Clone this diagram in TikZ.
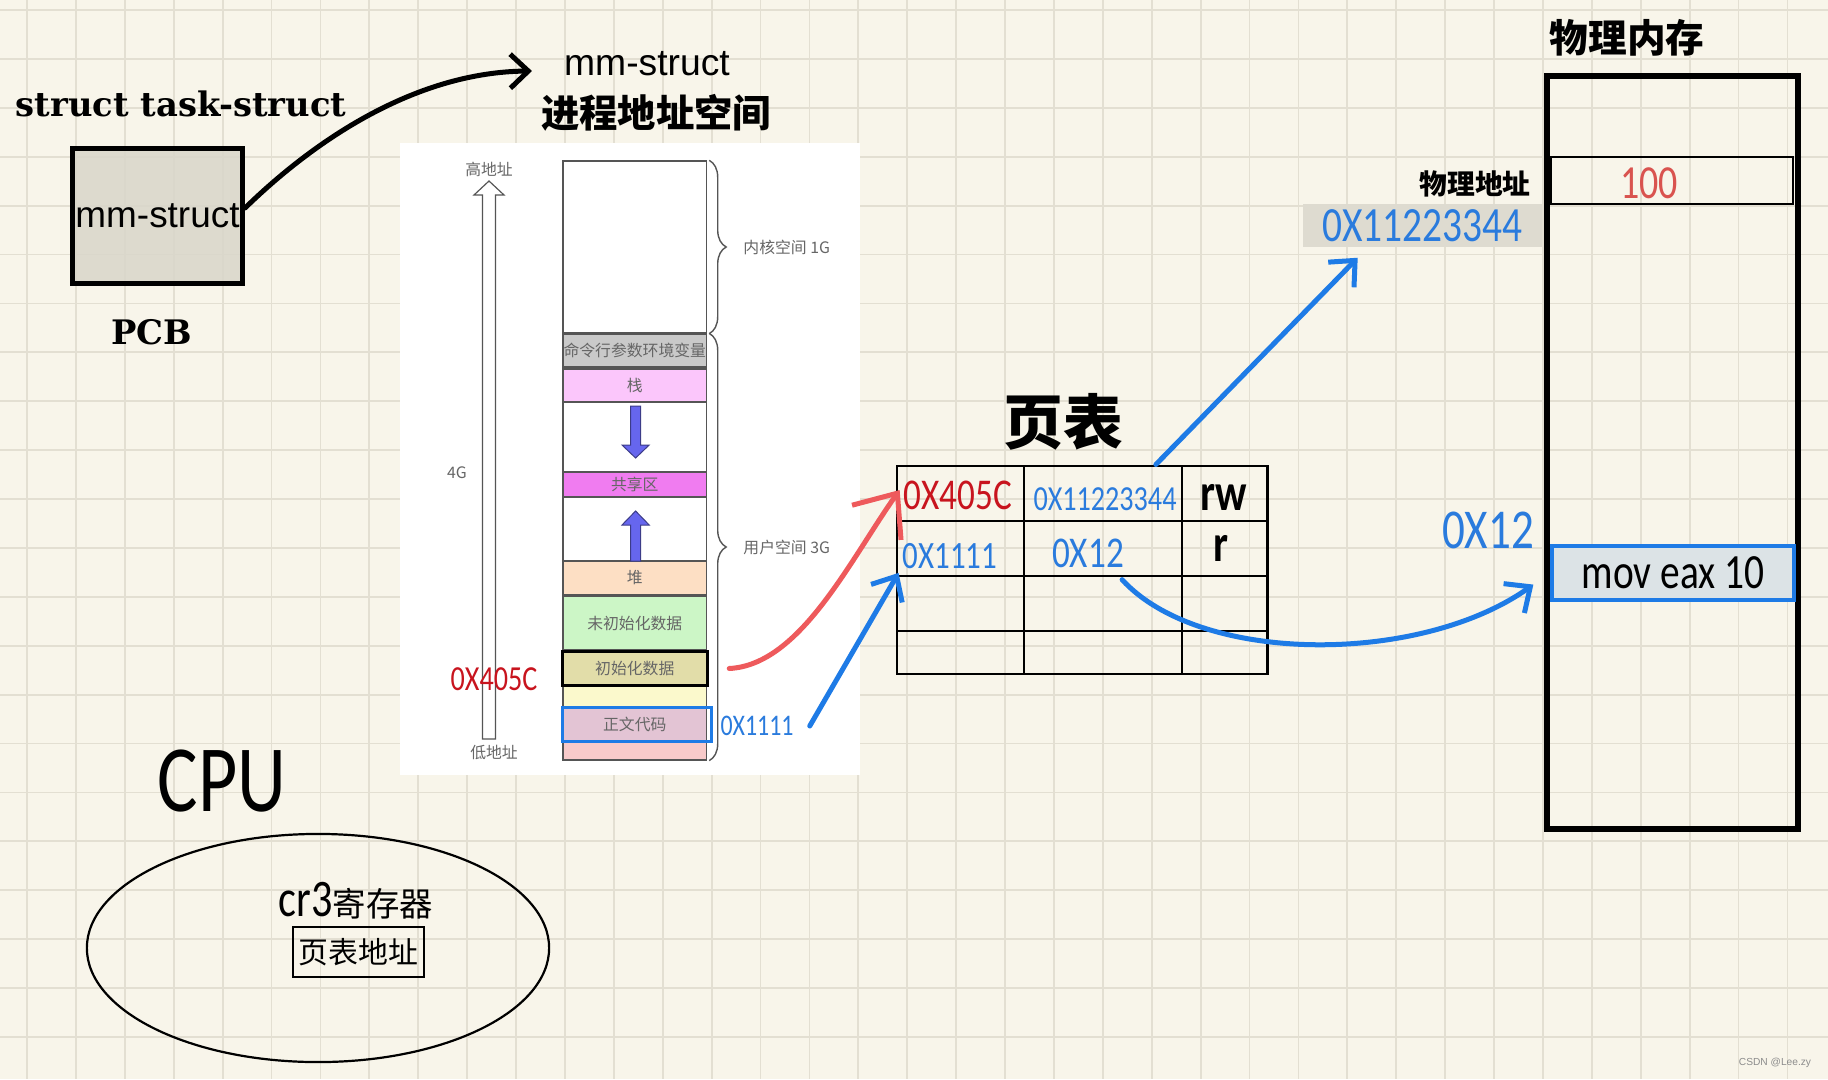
\documentclass[tikz,border=0pt]{standalone}
\usepackage{fontspec}
\setmainfont{Liberation Sans}
\newfontfamily\cjk{Noto Sans CJK SC}
\newfontfamily\slab{DejaVu Serif}
\newfontfamily\hand[FakeStretch=0.8]{Carlito}
\usetikzlibrary{arrows.meta,shapes.geometric,decorations.pathreplacing}
\newcommand\fsz[1]{\fontsize{#1}{#1}\selectfont}
\definecolor{paper}{HTML}{F8F5EA}
\definecolor{gridc}{HTML}{E3DFD2}
\definecolor{pcbgray}{HTML}{D9D6CA}
\definecolor{bargray}{HTML}{DEDBD0}
\definecolor{movfill}{HTML}{DCE3E6}
\definecolor{penblue}{HTML}{1E7BE6}
\definecolor{inkblue}{HTML}{2A7BDD}
\definecolor{inkred}{HTML}{C8141E}
\definecolor{penred}{HTML}{EE5A5C}
\definecolor{softred}{HTML}{D9534F}
\definecolor{segline}{HTML}{555555}
\definecolor{segcmd}{HTML}{C9C9C9}
\definecolor{segstack}{HTML}{FBC6FB}
\definecolor{segshare}{HTML}{F07CF0}
\definecolor{segheap}{HTML}{FDDFC4}
\definecolor{segbss}{HTML}{CCF6C6}
\definecolor{segdata}{HTML}{E2DDA9}
\definecolor{segpad}{HTML}{FBF9CC}
\definecolor{segcode}{HTML}{E3C4D4}
\definecolor{seglow}{HTML}{F8CACA}
\definecolor{growc}{HTML}{6666EE}

\begin{document}
\begin{tikzpicture}[
    x=0.01cm, y=-0.01cm,
    sheet/.style={draw=gridc, line width=0.018cm},
    sans/.style={inner sep=1pt, font=\fsz{#1}},
    slabb/.style={inner sep=1pt, font=\slab\bfseries\fsz{#1}},
    cjkb/.style={inner sep=1pt, font=\cjk\bfseries\fsz{#1}},
    hw/.style={inner sep=1pt, font=\hand\fsz{#1}},
    hwb/.style={inner sep=1pt, font=\hand\bfseries\fsz{#1}},
    seg/.style={draw=segline, line width=0.012cm, minimum width=1.435cm,
                inner sep=0pt, font=\cjk\fsz{4.5}, text=black!60},
    plab/.style={inner sep=1pt, font=\cjk\fsz{4.5}, text=black!60},
    brc/.style={draw=segline, line width=0.014cm, decorate,
                decoration={brace, amplitude=0.17cm}},
    growarr/.style={draw=segline!70!blue, line width=0.01cm, fill=growc},
    tab/.style={draw=black, line width=0.028cm},
    ink/.style={line width=0.05cm, line cap=round},
    bluetip/.style={-{Straight Barb[length=0.2cm, width=0.36cm]}},
]
% ---- background: squared paper ----
\useasboundingbox (0,0) rectangle (1828,1079);
\fill[paper] (0,0) rectangle (1828,1079);
\foreach \k in {0,...,36} \draw[sheet] ({27+48.9*\k},0) -- ({27+48.9*\k},1079);
\foreach \k in {0,...,21} \draw[sheet] (0,{10+48.9*\k}) -- (1828,{10+48.9*\k});

% ---- PCB ----
\node[slabb=9.6] (task) at (181,104) {struct task-struct};
\node[draw, line width=0.05cm, fill=pcbgray, fill opacity=0.85, text opacity=1,
      minimum width=1.7cm, minimum height=1.35cm, inner sep=0pt,
      font=\fsz{10.5}] (pcb) at (157.5,216) {mm-struct};
\node[slabb=9.6] (pcbname) at (152,332) {PCB};

% ---- mm-struct: process address space ----
\node[sans=10.6] (mm) at (647,64) {mm-struct};
\node[cjkb=10.9] (vas) at (656,113) {进程地址空间};
\draw[ink, -{Straight Barb[length=0.18cm, width=0.34cm]}] ([yshift=0.08cm]pcb.east)
    .. controls (320,135) and (420,72) .. ([xshift=-0.28cm, yshift=-0.07cm]mm.west);

\fill[white] (400,143) rectangle (860,775);
% segments, top to bottom
\foreach \ya/\yb/\col/\nm/\txt in {161/333/white/kern/{}, 334/367/segcmd/args/命令行参数环境变量,
    369/402/segstack/stack/栈, 402/472/white/gapA/{}, 472/497/segshare/share/共享区,
    497/561/white/gapB/{}, 561/595/segheap/heap/堆, 596/650/segbss/bss/未初始化数据,
    652/685/segdata/data/初始化数据, 685/708/segpad/pad/{}, 708/741/segcode/code/正文代码,
    741/760/seglow/low/{}} {
    \pgfmathsetmacro\hh{(\yb-\ya)/100}
    \pgfmathsetmacro\yc{(\ya+\yb)/2}
    \node[seg, fill=\col, minimum height=\hh cm] (\nm) at (634.8,\yc) {\txt};
}
\draw[line width=0.03cm] (data.north west) rectangle (data.south east);
\draw[penblue, line width=0.03cm] (code.north west) rectangle ([xshift=0.04cm]code.south east);
% stack grows down, heap grows up
\draw[growarr] (630.6,406) -- (630.6,445) -- (622,445) -- (635.6,458) -- (649.2,445)
    -- (640.6,445) -- (640.6,406) -- cycle;
\draw[growarr] (630.6,561) -- (630.6,525) -- (622,525) -- (635.6,511) -- (649.2,525)
    -- (640.6,525) -- (640.6,561) -- cycle;
% braces
\draw[brc] ([xshift=0.02cm]kern.north east) -- ([xshift=0.02cm]kern.south east)
    node[midway, right=0.3cm, plab] (ksp) {内核空间 1G};
\draw[brc] ([xshift=0.02cm]args.north east) -- ([xshift=0.02cm]low.south east)
    node[midway, right=0.3cm, plab] (usp) {用户空间 3G};
% address axis
\node[plab] (hi) at (489,169) {高地址};
\node[plab] (lo) at (494,753) {低地址};
\node[plab] (fourg) at (457,473) {4G};
\draw[draw=segline, line width=0.012cm, fill=white] (482.5,739) -- (482.5,195) -- (474,195)
    -- (489,181) -- (504,195) -- (495.5,195) -- (495.5,739) -- cycle;
\node[hw=10, text=inkred] (va405c) at (494,679) {0X405C};
\node[hw=8.5, text=inkblue] (va1111) at (757,726) {0X1111};

% ---- page table ----
\node[cjkb=17] (ptname) at (1063,422) {页表};
\node[tab, minimum width=3.7cm, minimum height=2.08cm, inner sep=0pt] (tbl) at (1082,570) {};
\foreach \gx in {1024,1182} \draw[tab] (\gx,466) -- (\gx,674);
\foreach \gy in {521,576,631} \draw[tab] (897,\gy) -- (1267,\gy);
\node[hw=12.5, text=inkred] (va1) at (958,495) {0X405C};
\node[hw=10, text=inkblue] (pa1) at (1105,499) {0X11223344};
\node[hwb=15] (rw1) at (1224,497) {rw};
\node[hw=11, text=inkblue] (va2) at (950,556) {0X1111};
\node[hw=12.5, text=inkblue] (pa2) at (1088,553) {0X12};
\node[hwb=15] (rw2) at (1221,548) {r};

% ---- physical memory ----
\node[cjkb=11] (memname) at (1627,38) {物理内存};
\node[draw, line width=0.06cm, minimum width=2.51cm, minimum height=7.53cm,
      inner sep=0pt] (mem) at (1672.5,452.5) {};
\node[draw, line width=0.015cm, minimum width=2.42cm, minimum height=0.47cm,
      inner sep=0pt] (slot) at (1672,180.5) {};
\node[hw=13.5, text=softred] (v100) at (1649,183) {100};
\node[cjkb=7.9] (paname) at (1475,184) {物理地址};
\node[fill=bargray, minimum width=2.39cm, minimum height=0.43cm, inner sep=0pt,
      hw=14, text=inkblue] (pa) at (1422.5,225.5) {0X11223344};
\node[hw=16, text=inkblue] (mlab) at (1488,530) {0X12};
\node[draw=penblue, line width=0.045cm, fill=movfill, minimum width=2.42cm,
      minimum height=0.54cm, inner sep=0pt, hw=14] (mov) at (1673,573) {mov eax 10};

% ---- translation arrows ----
\draw[ink, penred, -{Straight Barb[length=0.36cm, width=0.6cm]}] ([xshift=0.22cm]data.east)
    .. controls (800,665) and (850,560) .. ([yshift=0.05cm]va1.west);
\draw[ink, penblue, bluetip] ([xshift=0.12cm]va1111.east) -- (va2.south west);
\draw[ink, penblue, bluetip, shorten >=0.14cm] (tbl.55) -- ([xshift=-0.55cm]pa.south);
\draw[ink, penblue, bluetip, shorten >=0.2cm] ([xshift=-0.06cm, yshift=-0.08cm]pa2.south east)
    .. controls (1200,665) and (1420,665) .. (mov.west);

% ---- CPU ----
\node[hw=27] (cpuname) at (222,781) {CPU};
\node[ellipse, draw, line width=0.022cm, minimum width=4.62cm, minimum height=2.28cm,
      inner sep=0pt] (cpu) at (318,948) {};
\node[inner sep=1pt] (cr3) at (356,901) {{\hand\fsz{15}cr3}{\cjk\fsz{9.5}寄存器}};
\node[draw, line width=0.02cm, minimum width=1.31cm, minimum height=0.5cm, inner sep=0pt,
      font=\cjk\fsz{8.5}] (ptaddr) at (358.5,952) {页表地址};

\node[font=\fsz{2.9}, text=black!45, inner sep=0pt] (wm) at (1775,1063) {CSDN @Lee.zy};
\end{tikzpicture}
\end{document}
